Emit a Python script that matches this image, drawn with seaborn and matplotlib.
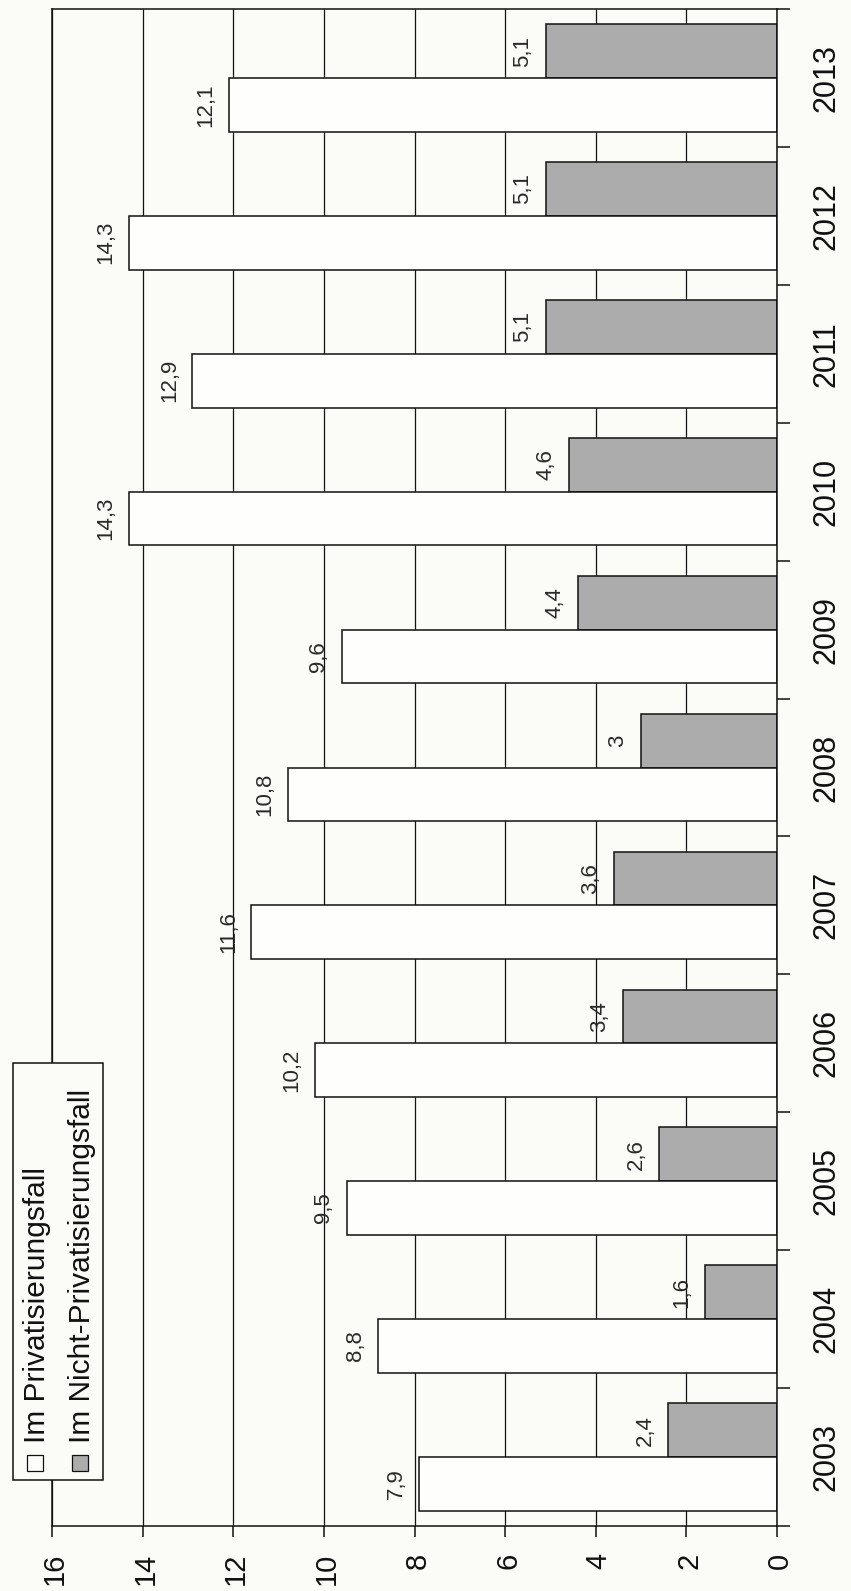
import matplotlib
matplotlib.use("Agg")
import matplotlib.pyplot as plt
from matplotlib.patches import Rectangle
from matplotlib.ticker import FixedLocator
import pandas as pd
import seaborn as sns

# Values per year (in %), two scenarios
years = ["2003", "2004", "2005", "2006", "2007", "2008",
         "2009", "2010", "2011", "2012", "2013"]
privatisierung = [7.9, 8.8, 9.5, 10.2, 11.6, 10.8, 9.6, 14.3, 12.9, 14.3, 12.1]
nicht_privatisierung = [2.4, 1.6, 2.6, 3.4, 3.6, 3.0, 4.4, 4.6, 5.1, 5.1, 5.1]
series_names = ["Im Privatisierungsfall", "Im Nicht-Privatisierungsfall"]
value_ticks = [0, 2, 4, 6, 8, 10, 12, 14, 16]

PAPER = "#fbfbf7"
WHITE_BAR = "#fefefc"
GRAY_BAR = "#acacac"
INK = "#111111"

sns.set_theme(style="white")
plt.rcParams["font.family"] = ["Liberation Sans", "DejaVu Sans"]

df = pd.DataFrame({
    "Jahr": years * 2,
    "Wert": privatisierung + nicht_privatisierung,
    "Fall": [series_names[0]] * len(years) + [series_names[1]] * len(years),
})

W, H = 851, 1591
fig = plt.figure(figsize=(W / 100, H / 100), dpi=100, facecolor=PAPER)


def fx(px):
    return px / W


def fy(py):
    return 1 - py / H


ax = fig.add_axes([fx(52), fy(1526), (777 - 52) / W, (1526 - 9) / H])
ax.set_facecolor(PAPER)

# Chart is laid out turned on its side: years run bottom-to-top on the right,
# values grow to the left.
order = years[::-1]
hue_order = [series_names[1], series_names[0]]  # grey bar sits above the white one
sns.barplot(
    data=df, x="Wert", y="Jahr", hue="Fall", order=order, hue_order=hue_order,
    orient="h", palette={series_names[0]: WHITE_BAR, series_names[1]: GRAY_BAR},
    width=0.78, edgecolor=INK, linewidth=1.1, saturation=1, errorbar=None,
    legend=False, ax=ax, zorder=2,
)

ax.set_xlim(16, 0)
ax.set_ylim(len(order) - 0.5, -0.5)
ax.set_xlabel("")
ax.set_ylabel("")

# value axis along the bottom
ax.set_xticks(value_ticks)
ax.set_xticklabels([str(v) for v in value_ticks], rotation=90,
                   rotation_mode="anchor", ha="right", va="center_baseline",
                   fontsize=21, color=INK)
ax.tick_params(axis="x", which="major", bottom=True, direction="out",
               length=8, width=1.1, pad=11, color=INK)

ax.grid(axis="x", color=INK, lw=0.9)
ax.grid(axis="y", visible=False)
ax.set_axisbelow(True)

# year axis on the right
ax.yaxis.tick_right()
ax.set_yticks(range(len(order)))
ax.set_yticklabels(order, rotation=90, rotation_mode="anchor",
                   ha="center", va="top", fontsize=22, color=INK)
ax.yaxis.set_minor_locator(FixedLocator([i - 0.5 for i in range(len(order) + 1)]))
ax.tick_params(axis="y", which="major", left=False, right=True, length=0, pad=25)
ax.tick_params(axis="y", which="minor", left=False, right=True, direction="out",
               length=9, width=1.1, color=INK)

for s in ax.spines.values():
    s.set_visible(True)
    s.set_color(INK)
    s.set_linewidth(1.1)

# value labels beyond each bar end
for container in ax.containers:
    ax.bar_label(container, fmt=lambda v: f"{v:g}".replace(".", ","),
                 padding=9, rotation=90, fontsize=16, color="#2a2a2a")

# legend box, drawn sideways like the rest of the chart
fig.add_artist(Rectangle((fx(13), fy(1480)), (103 - 13) / W, (1480 - 1063) / H,
                         transform=fig.transFigure, facecolor=PAPER,
                         edgecolor=INK, lw=1.1, zorder=5))
swatches = [(35, WHITE_BAR), (80, GRAY_BAR)]
for (cx, color), name in zip(swatches, series_names):
    fig.add_artist(Rectangle((fx(cx - 8), fy(1471)), 16 / W, 16 / H,
                             transform=fig.transFigure, facecolor=color,
                             edgecolor=INK, lw=0.9, zorder=6))
    fig.text(fx(cx + 10), fy(1443), name, rotation=90, rotation_mode="anchor",
             ha="left", va="baseline", fontsize=21.5, color=INK, zorder=7)

fig.savefig("out.png", dpi=100, facecolor=PAPER)
